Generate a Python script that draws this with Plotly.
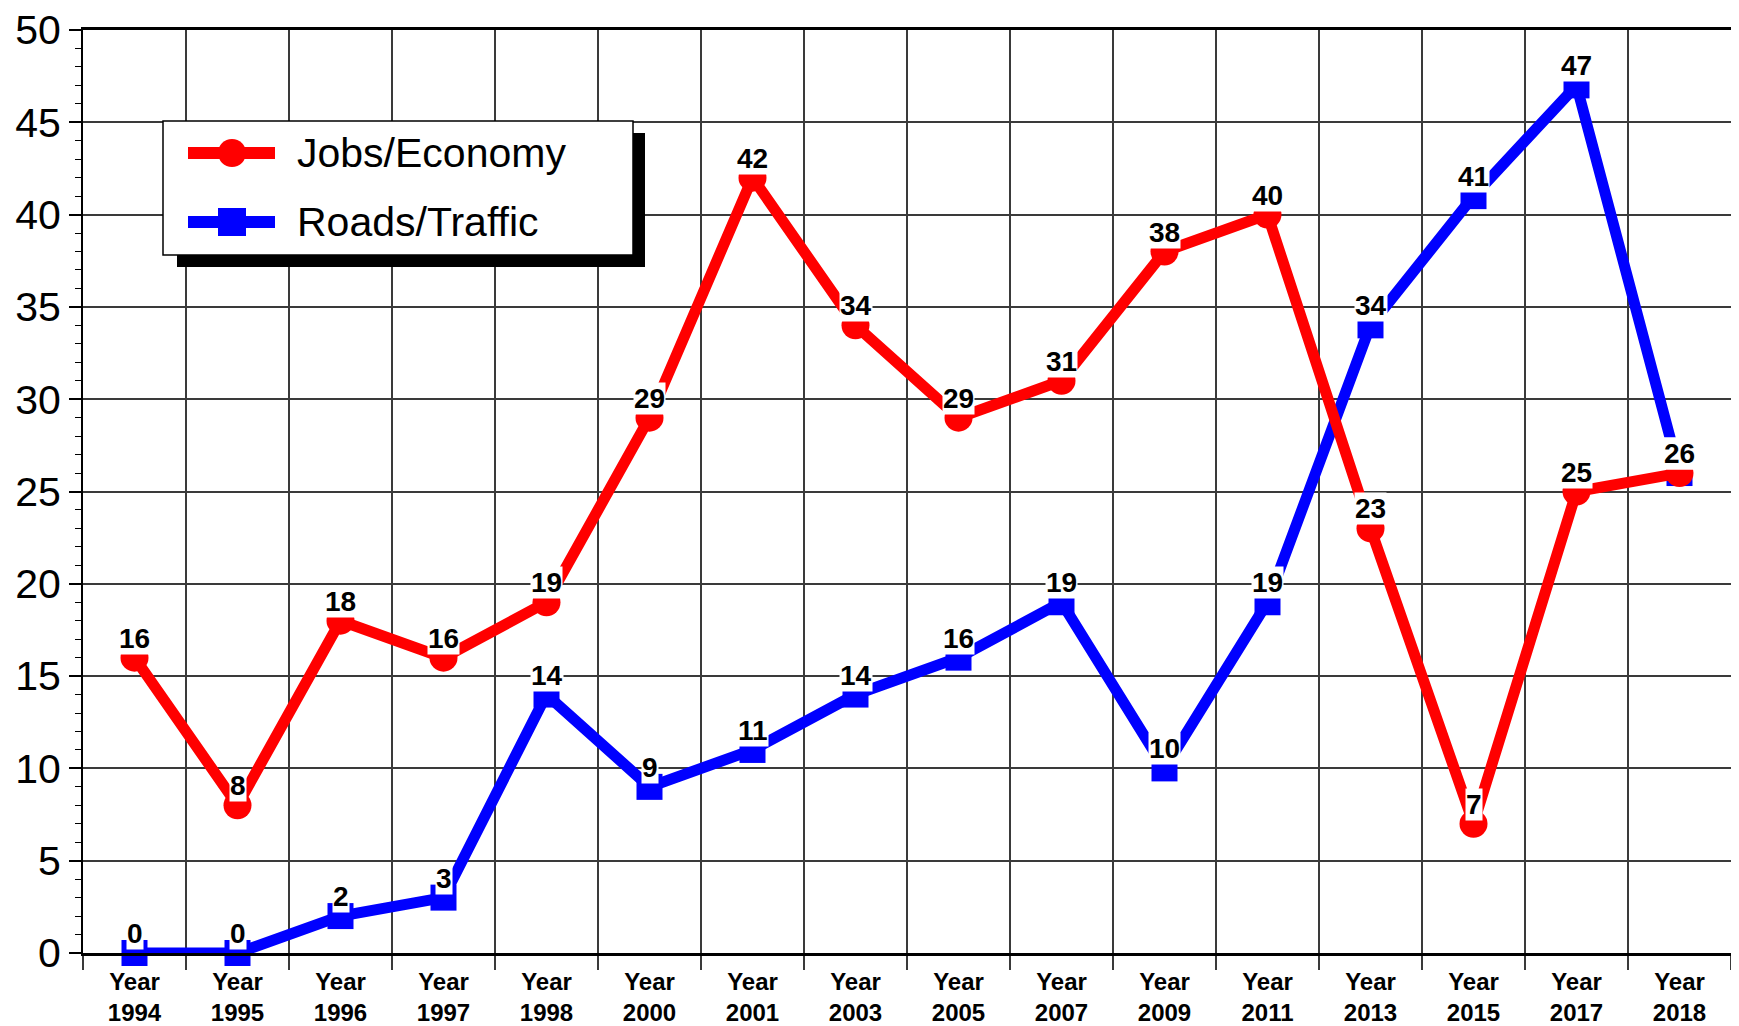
import plotly.graph_objects as go

years = ["1994", "1995", "1996", "1997", "1998", "2000", "2001", "2003",
         "2005", "2007", "2009", "2011", "2013", "2015", "2017", "2018"]
categories = ["Year<br>" + y for y in years]
jobs_economy = [16, 8, 18, 16, 19, 29, 42, 34, 29, 31, 38, 40, 23, 7, 25, 26]
roads_traffic = [0, 0, 2, 3, 14, 9, 11, 14, 16, 19, 10, 19, 34, 41, 47, 26]
series_names = ["Jobs/Economy", "Roads/Traffic"]
RED = "#ff0000"
BLUE = "#0000ff"

# page body margin offsets the figure by 8px
OFF = 8
PL, PT, PR, PB = 83, 30, 1731, 953          # plot area in page pixels
ML, MT = PL - OFF, PT - OFF
PW, PH = PR - PL, PB - PT
W, H = 1731, 1018
MR = W - ML - PW
MB = H - MT - PH


def px2paper(x, y):
    return (x - PL) / PW, (PB - y) / PH


fig = go.Figure()
fig.add_trace(go.Scatter(
    x=categories, y=roads_traffic, mode="lines+markers", name=series_names[1],
    line=dict(color=BLUE, width=11),
    marker=dict(symbol="square", size=26, color=BLUE),
    showlegend=False, cliponaxis=False))
fig.add_trace(go.Scatter(
    x=categories, y=jobs_economy, mode="lines+markers", name=series_names[0],
    line=dict(color=RED, width=11),
    marker=dict(symbol="circle", size=28, color=RED),
    showlegend=False, cliponaxis=False))

anns = []
for vals in (roads_traffic, jobs_economy):
    for c, v in zip(categories, vals):
        anns.append(dict(x=c, y=v, xref="x", yref="y", text=str(v),
                         showarrow=False, yanchor="bottom", yshift=3,
                         bgcolor="white", borderpad=0,
                         font=dict(family="Liberation Sans", size=28,
                                   color="black", weight="bold")))

# manual legend with shadow
shapes = []
x0, y0 = px2paper(177, 267)
x1, y1 = px2paper(645, 133)
shapes.append(dict(type="rect", xref="paper", yref="paper", x0=x0, y0=y0,
                   x1=x1, y1=y1, fillcolor="black", line=dict(width=0),
                   layer="above"))
x0, y0 = px2paper(163, 255)
x1, y1 = px2paper(633, 121)
shapes.append(dict(type="rect", xref="paper", yref="paper", x0=x0, y0=y0,
                   x1=x1, y1=y1, fillcolor="white",
                   line=dict(width=1.5, color="black"), layer="above"))
for name, color, sym, ry in ((series_names[0], RED, "circle", 153),
                             (series_names[1], BLUE, "square", 222)):
    lx0, ly = px2paper(188, ry)
    lx1, _ = px2paper(275, ry)
    shapes.append(dict(type="line", xref="paper", yref="paper", x0=lx0,
                       x1=lx1, y0=ly, y1=ly,
                       line=dict(color=color, width=12), layer="above"))
    mx0, my0 = px2paper(232 - 14, ry + 14)
    mx1, my1 = px2paper(232 + 14, ry - 14)
    shapes.append(dict(type="circle" if sym == "circle" else "rect",
                       xref="paper", yref="paper", x0=mx0, x1=mx1,
                       y0=my0, y1=my1, fillcolor=color,
                       line=dict(width=0), layer="above"))
    tx, ty = px2paper(295, ry)
    anns.append(dict(x=tx, y=ty, xref="paper", yref="paper", text=name,
                     showarrow=False, xanchor="left", yanchor="middle",
                     font=dict(family="Liberation Sans", size=41,
                               color="black")))

fig.update_layout(
    width=W, height=H,
    margin=dict(l=ML, r=MR, t=MT, b=MB, pad=0, autoexpand=False),
    paper_bgcolor="white", plot_bgcolor="white",
    showlegend=False,
    annotations=anns, shapes=shapes,
    xaxis=dict(type="category", tickson="boundaries", showgrid=True,
               range=[-0.5, len(categories) - 0.5], automargin=False,
               ticklabeloverflow="allow", ticklabelstandoff=5,
               gridcolor="#3a3a3a", gridwidth=1.5,
               showline=True, mirror=True, linecolor="black", linewidth=2.5,
               ticks="outside", ticklen=14, tickcolor="#3a3a3a", tickwidth=1.5,
               tickfont=dict(family="Liberation Sans", size=24,
                             color="black", weight="bold"),
               tickangle=0),
    yaxis=dict(range=[0, 50], dtick=5, tick0=0, showgrid=True,
               automargin=False, ticklabeloverflow="allow",
               gridcolor="#3a3a3a", gridwidth=1.5, zeroline=False,
               showline=True, mirror=True, linecolor="black", linewidth=2,
               ticks="outside", ticklen=12, tickcolor="black", tickwidth=1.5,
               minor=dict(dtick=1, ticks="outside", ticklen=6,
                          tickcolor="black", tickwidth=1, showgrid=False),
               tickfont=dict(family="Liberation Sans", size=41,
                             color="black")),
)

fig.write_html("out.html")
